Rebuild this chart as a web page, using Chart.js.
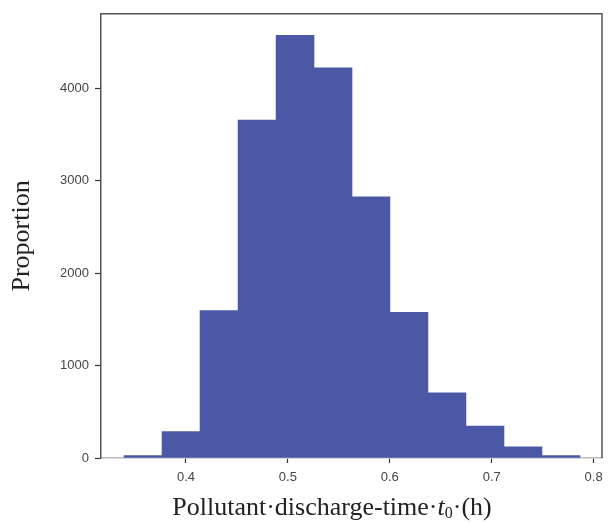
<!DOCTYPE html>
<html>
<head>
<meta charset="utf-8">
<script src="https://cdn.jsdelivr.net/npm/chart.js@4"></script>
<style>
  html, body { margin: 0; padding: 0; background: #fff; }
  #wrap { width: 610px; height: 524px; }
</style>
</head>
<body>
<div id="wrap"><canvas id="hist" width="610" height="524"></canvas></div>
<script>
// histogram bins (centre of each bin, in hours) and their counts
const binCenters = [0.3578, 0.3951, 0.4324, 0.4697, 0.5070, 0.5443, 0.5815, 0.6188, 0.6561, 0.6934, 0.7307, 0.7680]
const binCounts = [25, 285, 1595, 3653, 4569, 4220, 2825, 1576, 706, 344, 120, 25]
const xTicks = [0.4, 0.5, 0.6, 0.7, 0.8]
const yTicks = [0, 1000, 2000, 3000, 4000]
const yTitle = 'Proportion'
const xTitleParts = ['Pollutant·discharge-time·', 't', '0', '·(h)']

const serif = '"Liberation Serif", "DejaVu Serif", serif'
const sans = '"Liberation Sans", Arial, sans-serif'

// draws top and right edges of the frame
const frameBox = {
  id: 'frameBox',
  afterDraw(chart) {
    const { ctx, chartArea: a } = chart
    ctx.save()
    ctx.strokeStyle = '#555'
    ctx.lineWidth = 1.5
    ctx.beginPath()
    ctx.moveTo(a.left, a.top)
    ctx.lineTo(a.right, a.top)
    ctx.lineTo(a.right, a.bottom)
    ctx.stroke()
    ctx.restore()
  },
}

// x axis title with italic t and small subscript 0
const xTitle = {
  id: 'xTitle',
  afterDraw(chart) {
    const ctx = chart.ctx
    const fonts = [
      '26px ' + serif,
      'italic 26px ' + serif,
      '16px ' + serif,
      '26px ' + serif,
    ]
    const shift = [0, 0, 3, 0]
    ctx.save()
    ctx.fillStyle = '#222'
    ctx.textBaseline = 'alphabetic'
    ctx.textAlign = 'left'
    let total = 0
    const widths = xTitleParts.map((t, i) => {
      ctx.font = fonts[i]
      const w = ctx.measureText(t).width
      total += w
      return w
    })
    let x = chart.chartArea.left + 231 - total / 2
    const y = chart.chartArea.bottom + 57
    xTitleParts.forEach((t, i) => {
      ctx.font = fonts[i]
      ctx.fillText(t, x, y + shift[i])
      x += widths[i]
    })
    ctx.restore()
  },
}

const ctx = document.getElementById('hist').getContext('2d')

new Chart(ctx, {
  type: 'bar',
  data: {
    datasets: [
      {
        data: binCenters.map((c, i) => ({ x: c, y: binCounts[i] })),
        backgroundColor: '#4b58a6',
        borderWidth: 0,
        barPercentage: 1,
        categoryPercentage: 1,
      },
    ],
  },
  options: {
    responsive: false,
    animation: false,
    layout: { padding: { top: 7, right: 8, left: 0, bottom: 0 } },
    plugins: {
      legend: { display: false },
      tooltip: { enabled: false },
      title: { display: false },
    },
    scales: {
      x: {
        type: 'linear',
        offset: false,
        min: 0.3166,
        max: 0.8082,
        afterFit(scale) { scale.height = 66 },
        afterBuildTicks(scale) { scale.ticks = xTicks.map(v => ({ value: v })) },
        grid: { offset: false, drawOnChartArea: false, tickLength: 5, tickColor: '#333', tickWidth: 1.2 },
        border: { color: '#bbb', width: 1.5 },
        ticks: {
          padding: 7,
          color: '#444',
          font: { family: sans, size: 13 },
          maxRotation: 0,
          callback: v => v.toFixed(1),
        },
      },
      y: {
        min: 0,
        max: 4803,
        afterFit(scale) { scale.width = 101 },
        afterBuildTicks(scale) { scale.ticks = yTicks.map(v => ({ value: v })) },
        grid: { drawOnChartArea: false, tickLength: 6, tickColor: '#333', tickWidth: 1.2 },
        border: { color: '#555', width: 1.5 },
        ticks: {
          padding: 6,
          color: '#444',
          font: { family: sans, size: 13 },
          callback: v => String(v),
        },
        title: {
          display: true,
          text: yTitle,
          color: '#222',
          font: { family: serif, size: 26, weight: 'normal' },
          padding: { top: 7, bottom: 0 },
        },
      },
    },
  },
  plugins: [frameBox, xTitle],
})
</script>
</body>
</html>
